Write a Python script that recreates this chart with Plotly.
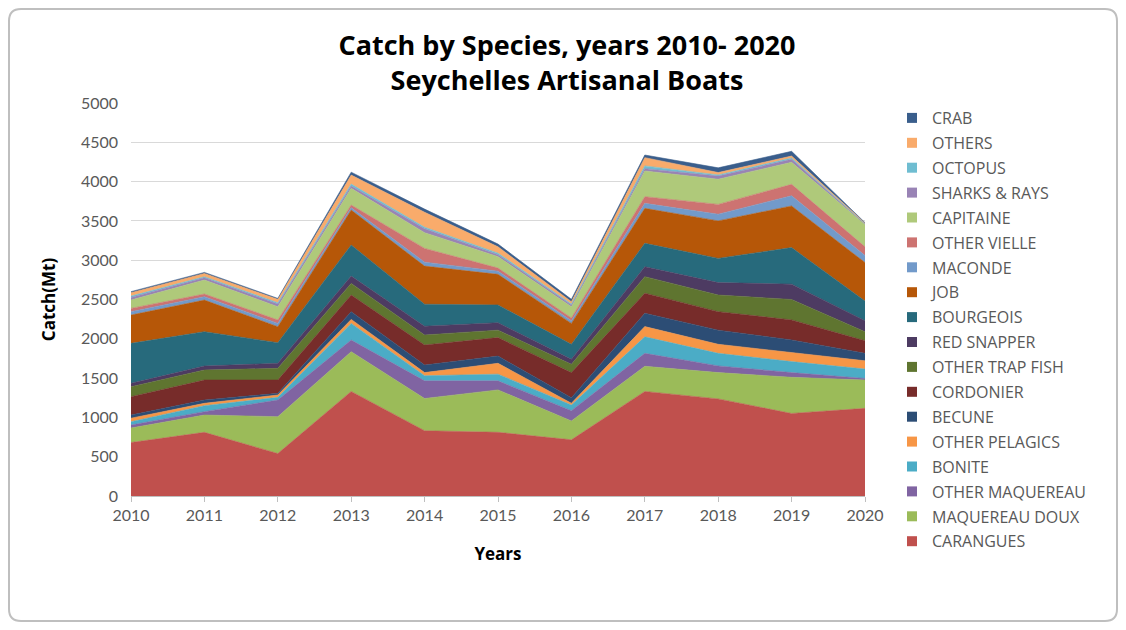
import plotly.graph_objects as go

years = [2010, 2011, 2012, 2013, 2014, 2015, 2016, 2017, 2018, 2019, 2020]

species = ["CARANGUES", "MAQUEREAU DOUX", "OTHER MAQUEREAU", "BONITE", "OTHER PELAGICS",
           "BECUNE", "CORDONIER", "OTHER TRAP FISH", "RED SNAPPER", "BOURGEOIS", "JOB",
           "MACONDE", "OTHER VIELLE", "CAPITAINE", "SHARKS & RAYS", "OCTOPUS", "OTHERS", "CRAB"]

carangues = [680, 810, 540, 1330, 830, 810, 715, 1330, 1235, 1050, 1115]
maquereau_doux = [185, 220, 469, 506, 410, 540, 240, 320, 335, 460, 360]
other_maquereau = [38, 43, 212, 148, 225, 115, 130, 165, 85, 60, 20]
bonite = [42, 76, 34, 212, 65, 85, 72, 210, 160, 140, 120]
other_pelagics = [45, 30, 30, 51, 40, 138, 23, 130, 115, 115, 105]
becune = [40, 42, 21, 98, 96, 92, 70, 170, 180, 160, 95]
cordonier = [233, 254, 169, 212, 255, 235, 320, 255, 235, 255, 160]
other_trap_fish = [127, 128, 149, 148, 127, 95, 105, 210, 212, 260, 115]
red_snapper = [43, 51, 64, 93, 112, 95, 65, 127, 158, 195, 140]
bourgeois = [509, 436, 262, 395, 280, 225, 190, 298, 308, 465, 250]
job = [360, 403, 204, 445, 485, 390, 266, 445, 477, 530, 490]
maconde = [43, 42, 42, 30, 50, 40, 34, 63, 85, 130, 90]
other_vielle = [42, 35, 43, 34, 175, 40, 35, 85, 125, 145, 110]
capitaine = [106, 178, 169, 212, 200, 145, 143, 327, 320, 280, 285]
sharks_rays = [34, 29, 34, 29, 50, 25, 22, 30, 40, 38, 5]
octopus = [17, 13, 17, 26, 20, 20, 12, 35, 15, 17, 5]
others = [43, 42, 43, 114, 190, 80, 30, 105, 30, 25, 7]
crab = [13, 13, 12, 37, 40, 35, 30, 33, 60, 60, 6]

values = [carangues, maquereau_doux, other_maquereau, bonite, other_pelagics, becune,
          cordonier, other_trap_fish, red_snapper, bourgeois, job, maconde, other_vielle,
          capitaine, sharks_rays, octopus, others, crab]

colors = ["#C0504D", "#9BBB59", "#8064A2", "#4BACC6", "#F79646", "#2C4D75",
          "#772C2A", "#5F7530", "#4D3B62", "#276A7C", "#B65708", "#729ACA",
          "#CD7371", "#AFC97A", "#9983B5", "#6FBDD1", "#F9AB6B", "#3A5E8C"]

yticks = [0, 500, 1000, 1500, 2000, 2500, 3000, 3500, 4000, 4500, 5000]

FONT = "Lato, 'Open Sans', sans-serif"
FONT2 = "'Open Sans', Lato, sans-serif"
GREY = "#595959"

fig = go.Figure()
for name, vals, col in zip(species, values, colors):
    fig.add_trace(go.Scatter(
        x=years, y=vals, name=name, stackgroup="one", mode="lines",
        line=dict(width=0.6, color=col), fillcolor=col, showlegend=False,
        hovertemplate=name + ": %{y}<extra></extra>"))

# legend entries (square markers), top to bottom CRAB ... CARANGUES
for name, col in zip(reversed(species), reversed(colors)):
    fig.add_trace(go.Scatter(
        x=[None], y=[None], mode="markers", name=name, legendgroup=name,
        marker=dict(symbol="square", size=10, color=col), showlegend=True))

# page has an 8px body margin: figure pixel = page pixel - 8
OFF = 8
W, H = 1110, 614
L, R, T, B = 131 - OFF, 865 - OFF, 103 - OFF, 496 - OFF
pw, ph = R - L, B - T

def px(x):
    return (x - OFF - L) / pw

def py(y):
    return (B - (y - OFF)) / ph

# rounded outer frame (page coords)
x0, y0, x1, y1, r = 9, 9, 1117, 621, 12
path = (f"M {px(x0 + r)},{py(y0)} L {px(x1 - r)},{py(y0)} "
        f"Q {px(x1)},{py(y0)} {px(x1)},{py(y0 + r)} "
        f"L {px(x1)},{py(y1 - r)} Q {px(x1)},{py(y1)} {px(x1 - r)},{py(y1)} "
        f"L {px(x0 + r)},{py(y1)} Q {px(x0)},{py(y1)} {px(x0)},{py(y1 - r)} "
        f"L {px(x0)},{py(y0 + r)} Q {px(x0)},{py(y0)} {px(x0 + r)},{py(y0)} Z")

fig.update_layout(
    width=W, height=H,
    margin=dict(l=L, r=W - R, t=T, b=H - B, autoexpand=False),
    paper_bgcolor="white", plot_bgcolor="white",
    font=dict(family=FONT, color=GREY, size=16),
    title=dict(text="<b>Catch by Species, years 2010- 2020<br>Seychelles Artisanal Boats</b>",
               x=(567 - OFF) / W, xanchor="center", xref="container",
               y=1 - (55 - OFF) / H, yanchor="middle", yref="container",
               font=dict(family=FONT2, size=27, color="#000000")),
    xaxis=dict(range=[2010, 2020], tickmode="array", tickvals=years,
               showgrid=False, zeroline=False, showline=True, linecolor="#BFBFBF",
               ticks="outside", ticklen=5, tickcolor="#BFBFBF",
               tickfont=dict(size=16, color=GREY),
               title=dict(text="<b>Years</b>", font=dict(family=FONT2, size=17, color="#000000"),
                          standoff=24)),
    yaxis=dict(range=[0, 5000], tickmode="array", tickvals=yticks,
               showgrid=True, gridcolor="#D9D9D9", gridwidth=1, zeroline=False,
               showline=False, ticks="", ticklabelstandoff=12,
               tickfont=dict(size=16, color=GREY),
               title=dict(text="<b>Catch(Mt)</b>", font=dict(family=FONT2, size=17, color="#000000"),
                          standoff=20)),
    legend=dict(x=px(892), xanchor="left", y=py(101), yanchor="top",
                traceorder="grouped", tracegroupgap=1.1, itemwidth=30,
                maxheight=560,
                font=dict(family=FONT2, size=16, color=GREY), bgcolor="rgba(0,0,0,0)"),
    shapes=[dict(type="path", path=path, xref="paper", yref="paper",
                 line=dict(color="#BFBFBF", width=2), layer="below")],
)

fig.write_html("out.html")
